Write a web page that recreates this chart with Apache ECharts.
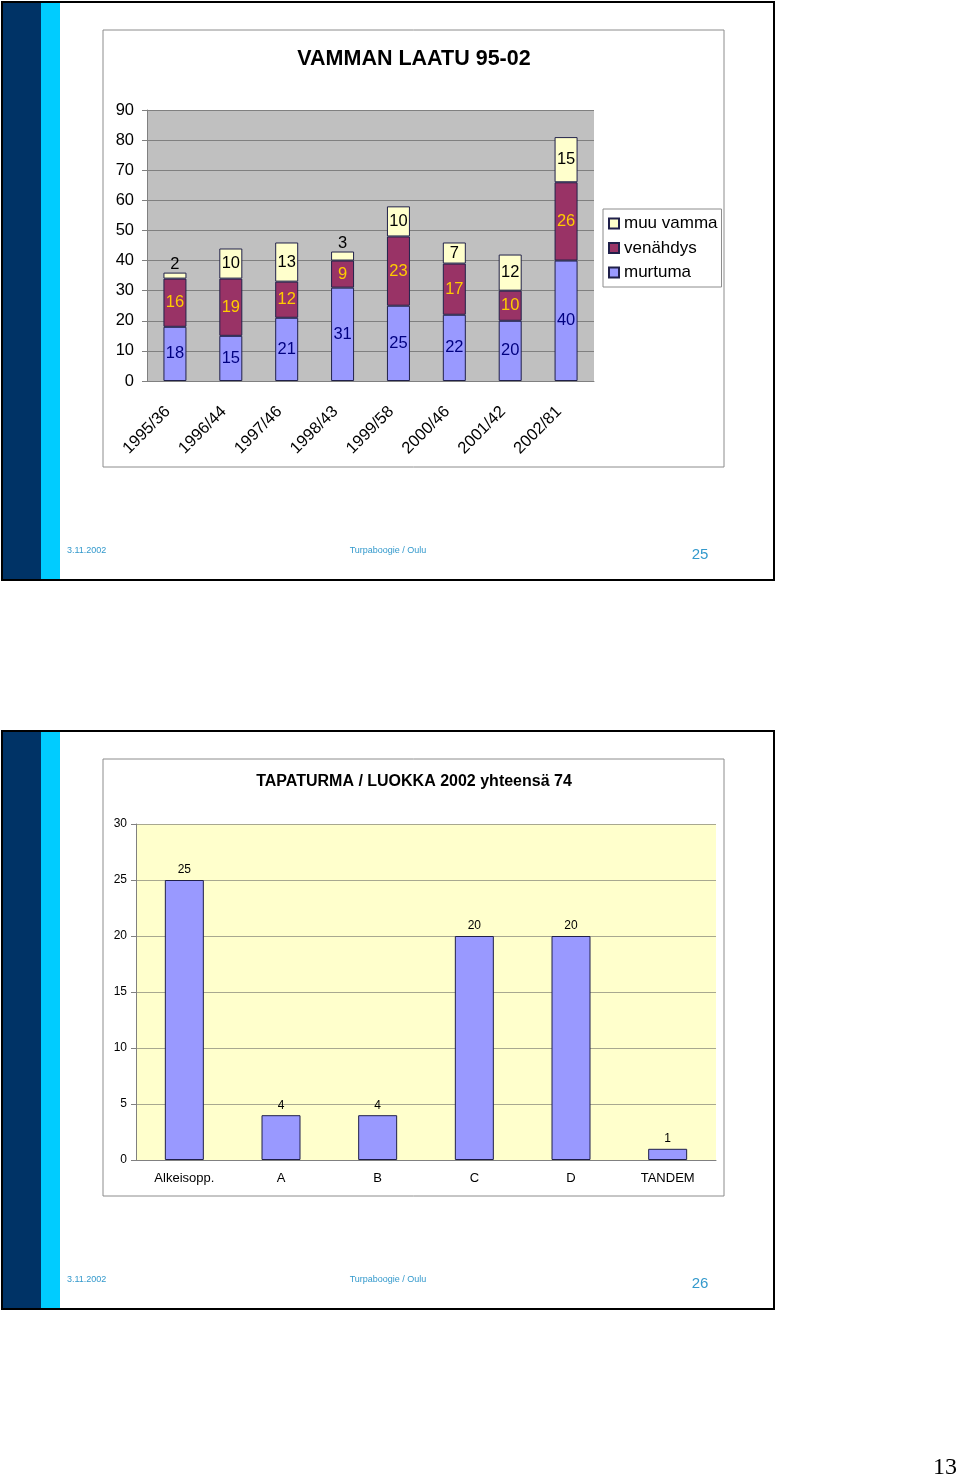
<!DOCTYPE html>
<html>
<head>
<meta charset="utf-8">
<script src="https://cdn.jsdelivr.net/npm/echarts@6/dist/echarts.min.js"></script>
<style>
  html, body { margin: 0; padding: 0; background: #fff; }
  #main { width: 960px; height: 1480px; }
</style>
</head>
<body>
<div id="main"></div>
<script>
// slide 1: VAMMAN LAATU 95-02
var years = ['1995/36', '1996/44', '1997/46', '1998/43', '1999/58', '2000/46', '2001/42', '2002/81']
var murtuma = [18, 15, 21, 31, 25, 22, 20, 40]
var venahdys = [16, 19, 12, 9, 23, 17, 10, 26]
var muuVamma = [2, 10, 13, 3, 10, 7, 12, 15]

// slide 2: TAPATURMA / LUOKKA 2002
var luokat = ['Alkeisopp.', 'A', 'B', 'C', 'D', 'TANDEM']
var tapaturmat = [25, 4, 4, 20, 20, 1]

var font = 'Liberation Sans, Arial, sans-serif'
var myChart = echarts.init(document.getElementById('main'))

// slide frame drawn twice, second one shifted down
function slideFrame(dy, page) {
  return [
    { type: 'rect', shape: { x: 2, y: 2 + dy, width: 772, height: 578 },
      style: { fill: '#fff', stroke: '#000', lineWidth: 2 }, z: -10 },
    { type: 'rect', shape: { x: 3, y: 3 + dy, width: 38, height: 576 },
      style: { fill: '#003366' }, z: -9 },
    { type: 'rect', shape: { x: 41, y: 3 + dy, width: 19, height: 576 },
      style: { fill: '#00ccff' }, z: -9 },
    { type: 'rect', shape: { x: 103, y: 30 + dy, width: 621, height: 437 },
      style: { fill: '#fff', stroke: '#8c8c8c', lineWidth: 1 }, z: -8 },
    { type: 'text', x: 67, y: 551 + dy,
      style: { text: '3.11.2002', fill: '#3399cc', font: '9px ' + font, verticalAlign: 'middle' } },
    { type: 'text', x: 388, y: 551 + dy,
      style: { text: 'Turpaboogie / Oulu', fill: '#3399cc', font: '9px ' + font, align: 'center', verticalAlign: 'middle' } },
    { type: 'text', x: 700, y: 555 + dy,
      style: { text: page, fill: '#3399cc', font: '15px ' + font, align: 'center', verticalAlign: 'middle' } }
  ]
}

var graphics = slideFrame(0, '25').concat(slideFrame(729, '26'))
graphics.push({ type: 'text', x: 414, y: 59,
  style: { text: 'VAMMAN LAATU 95-02', fill: '#000', font: 'bold 21.5px ' + font, align: 'center', verticalAlign: 'middle' } })
graphics.push({ type: 'text', x: 414, y: 782,
  style: { text: 'TAPATURMA / LUOKKA 2002 yhteensä 74', fill: '#000', font: 'bold 16px ' + font, align: 'center', verticalAlign: 'middle' } })
graphics.push({ type: 'text', x: 945, y: 1468,
  style: { text: '13', fill: '#000', font: '24px Liberation Serif, serif', align: 'center', verticalAlign: 'middle' } })

var barBorder = { borderColor: '#20204a', borderWidth: 1 }

option = {
  animation: false,
  textStyle: { fontFamily: font },
  graphic: graphics,
  legend: {
    data: ['muu vamma', 'venähdys', 'murtuma'],
    orient: 'vertical',
    left: 603,
    top: 209,
    padding: [6, 4, 6, 5],
    itemGap: 7.5,
    itemWidth: 10,
    itemHeight: 10,
    icon: 'rect',
    backgroundColor: '#fff',
    borderColor: '#8c8c8c',
    borderWidth: 1,
    textStyle: { fontSize: 17, color: '#000' }
  },
  grid: [
    { left: 147, top: 110, width: 447, height: 271, show: true, backgroundColor: '#c0c0c0', borderWidth: 0 },
    { left: 136, top: 824, width: 580, height: 336, show: true, backgroundColor: '#ffffcc', borderWidth: 0 }
  ],
  xAxis: [
    {
      gridIndex: 0,
      type: 'category',
      data: years,
      axisLine: { lineStyle: { color: '#808080' } },
      axisTick: { length: 5, lineStyle: { color: '#808080' } },
      axisLabel: { rotate: 45, fontSize: 16.5, color: '#000', margin: 21, padding: [0, 10, 0, 0], interval: 0 }
    },
    {
      gridIndex: 1,
      type: 'category',
      data: luokat,
      axisLine: { lineStyle: { color: '#808080' } },
      axisTick: { length: 5, lineStyle: { color: '#808080' } },
      axisLabel: { fontSize: 13, color: '#000', margin: 12, interval: 0 }
    }
  ],
  yAxis: [
    {
      gridIndex: 0,
      type: 'value',
      min: 0,
      max: 90,
      interval: 10,
      axisLine: { show: true, lineStyle: { color: '#808080' } },
      axisTick: { show: true, length: 5, lineStyle: { color: '#808080' } },
      axisLabel: { fontSize: 16.5, color: '#000', margin: 13 },
      splitLine: { lineStyle: { color: '#808080' } }
    },
    {
      gridIndex: 1,
      type: 'value',
      min: 0,
      max: 30,
      interval: 5,
      axisLine: { show: true, lineStyle: { color: '#808080' } },
      axisTick: { show: true, length: 5, lineStyle: { color: '#808080' } },
      axisLabel: { fontSize: 12, color: '#000', margin: 9 },
      splitLine: { lineStyle: { color: '#a8a890' } }
    }
  ],
  series: [
    {
      name: 'murtuma',
      type: 'bar',
      stack: 'vamma',
      xAxisIndex: 0,
      yAxisIndex: 0,
      barWidth: 23,
      data: murtuma,
      itemStyle: Object.assign({ color: '#9999ff' }, barBorder),
      label: { show: true, position: 'inside', fontSize: 16.5, color: '#000080' }
    },
    {
      name: 'venähdys',
      type: 'bar',
      stack: 'vamma',
      xAxisIndex: 0,
      yAxisIndex: 0,
      barWidth: 23,
      data: venahdys,
      itemStyle: Object.assign({ color: '#993366' }, barBorder),
      label: { show: true, position: 'inside', fontSize: 16.5, color: '#ffcc00' }
    },
    {
      name: 'muu vamma',
      type: 'bar',
      stack: 'vamma',
      xAxisIndex: 0,
      yAxisIndex: 0,
      barWidth: 23,
      // thin segments get their label above the bar
      data: muuVamma.map(function(v) {
        return v < 5 ? { value: v, label: { position: 'top', distance: 0 } } : v
      }),
      itemStyle: Object.assign({ color: '#ffffcc' }, barBorder),
      label: { show: true, position: 'inside', fontSize: 16.5, color: '#000' }
    },
    {
      name: 'tapaturmat',
      type: 'bar',
      xAxisIndex: 1,
      yAxisIndex: 1,
      barWidth: 39,
      data: tapaturmat,
      itemStyle: Object.assign({ color: '#9999ff' }, barBorder),
      label: { show: true, position: 'top', fontSize: 12, color: '#000', distance: 4 }
    }
  ]
}
myChart.setOption(option, true)
</script>
</body>
</html>
